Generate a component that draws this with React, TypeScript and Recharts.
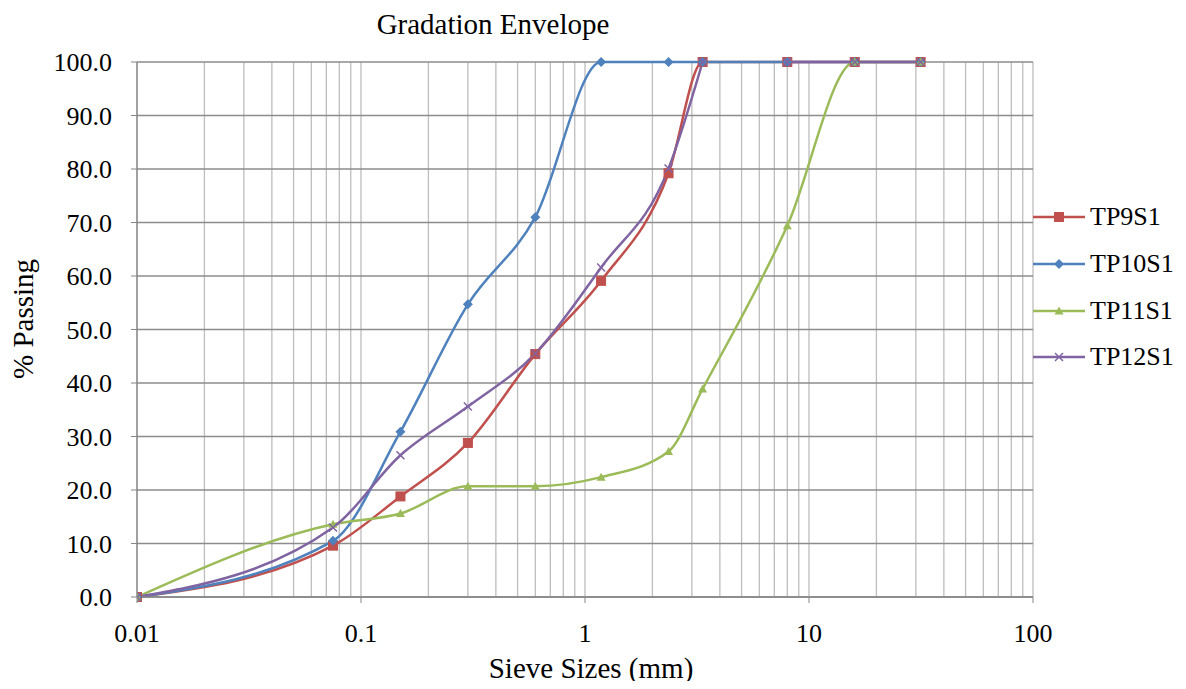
import React from 'react';
import { LineChart, Line, XAxis, YAxis, CartesianGrid, Legend } from 'recharts';

const FONT = '"Liberation Serif", "DejaVu Serif", serif';

// sieve sizes in mm (log x axis) and % passing per test pit
const sieveSizes = [0.01, 0.075, 0.15, 0.3, 0.6, 1.18, 2.36, 3.35, 8, 16, 31.5];
const tp9s1 = [0, 9.6, 18.8, 28.8, 45.4, 59.1, 79.2, 100, 100, 100, 100];
const tp10s1 = [0, 10.5, 30.9, 54.7, 71.0, 100, 100, 100, 100, 100, 100];
const tp11s1 = [0, 13.6, 15.6, 20.7, 20.7, 22.4, 27.2, 38.9, 69.4, 100, 100];
// TP12S1 has a blank cell at 4.75 mm, so its line breaks between 3.35 and 8
const tp12Sieves = [0.01, 0.075, 0.15, 0.3, 0.6, 1.18, 2.36, 3.35, 4.75, 8, 16, 31.5];
const tp12s1 = [0, 13.0, 26.5, 35.6, 45.5, 61.6, 80.1, 100, null, 100, 100, 100];

const xTicks = [
  0.01, 0.02, 0.03, 0.04, 0.05, 0.06, 0.07, 0.08, 0.09,
  0.1, 0.2, 0.3, 0.4, 0.5, 0.6, 0.7, 0.8, 0.9,
  1, 2, 3, 4, 5, 6, 7, 8, 9,
  10, 20, 30, 40, 50, 60, 70, 80, 90,
  100,
];
const xLabels = ['0.01', '0.1', '1', '10', '100'];
const yTicks = [0, 10, 20, 30, 40, 50, 60, 70, 80, 90, 100];

type Shape = 'square' | 'diamond' | 'triangle' | 'cross';

const toPoints = (xs: number[], ys: (number | null)[]) => xs.map((x, i) => ({ x, y: ys[i] }));

const series: { name: string; color: string; shape: Shape; data: { x: number; y: number | null }[] }[] = [
  { name: 'TP9S1', color: '#C0504D', shape: 'square', data: toPoints(sieveSizes, tp9s1) },
  { name: 'TP10S1', color: '#4F81BD', shape: 'diamond', data: toPoints(sieveSizes, tp10s1) },
  { name: 'TP11S1', color: '#9BBB59', shape: 'triangle', data: toPoints(sieveSizes, tp11s1) },
  { name: 'TP12S1', color: '#8064A2', shape: 'cross', data: toPoints(tp12Sieves, tp12s1) },
];

function Marker({ shape, x, y, color }: { shape: Shape; x: number; y: number; color: string }) {
  switch (shape) {
    case 'square':
      return <rect x={x - 4.5} y={y - 4.5} width={9} height={9} fill={color} stroke={color} strokeWidth={1} />;
    case 'diamond':
      return <polygon points={`${x},${y - 5} ${x + 5},${y} ${x},${y + 5} ${x - 5},${y}`} fill={color} />;
    case 'triangle':
      return <polygon points={`${x},${y - 4.5} ${x + 4.5},${y + 3.5} ${x - 4.5},${y + 3.5}`} fill={color} />;
    default:
      return (
        <path
          d={`M${x - 4},${y - 4}L${x + 4},${y + 4}M${x - 4},${y + 4}L${x + 4},${y - 4}`}
          stroke={color}
          strokeWidth={1.5}
          fill="none"
        />
      );
  }
}

const makeDot = (shape: Shape, color: string) => (p: any) => {
  if (p.cy == null || p.payload?.y == null || isNaN(p.cy)) return <g key={`d-${p.index}`} />;
  return (
    <g key={`d-${p.index}`}>
      <Marker shape={shape} x={p.cx} y={p.cy} color={color} />
    </g>
  );
};

const XTick = (p: any) => {
  const v = p.payload.value;
  const label = xLabels.find((l) => Math.abs(Number(l) - v) < 1e-9);
  if (!label) return <g />;
  return (
    <g>
      <line x1={p.x} x2={p.x} y1={p.y - 27} y2={p.y - 21} stroke="#868686" />
      <text x={p.x} y={p.y} dy="0.71em" textAnchor="middle" fontSize={26} fontFamily={FONT} fill="#000">
        {label}
      </text>
    </g>
  );
};

const renderLegend = () => (
  <div style={{ fontFamily: FONT, fontSize: 26, color: '#000' }}>
    {series.map((s) => (
      <div key={s.name} style={{ display: 'flex', alignItems: 'center', height: 46.7 }}>
        <svg width={52} height={20}>
          <line x1={0} y1={10} x2={52} y2={10} stroke={s.color} strokeWidth={2.5} />
          <Marker shape={s.shape} x={26} y={10} color={s.color} />
        </svg>
        <span style={{ marginLeft: 5, lineHeight: 1, whiteSpace: 'nowrap' }}>{s.name}</span>
      </div>
    ))}
  </div>
);

export default function App() {
  return (
    <div style={{ position: 'relative', width: 1170, height: 673 }}>
      <LineChart width={1170} height={673} margin={{ top: 54, right: 145, bottom: 34, left: 59 }}>
        <CartesianGrid horizontal={false} stroke="#bdbdbd" strokeWidth={1.3} />
        <CartesianGrid vertical={false} stroke="#8c8c8c" strokeWidth={1.3} />
        <XAxis
          dataKey="x"
          type="number"
          scale="log"
          domain={[0.01, 100]}
          ticks={xTicks}
          interval={0}
          allowDataOverflow
          height={50}
          tickSize={6}
          tickMargin={21}
          tickLine={false}
          axisLine={{ stroke: '#868686', strokeWidth: 1.3 }}
          tick={<XTick />}
        />
        <YAxis
          type="number"
          domain={[0, 100]}
          ticks={yTicks}
          interval={0}
          width={70}
          tickSize={6}
          tickMargin={19}
          tickFormatter={(v) => Number(v).toFixed(1)}
          tick={{ fontSize: 26, fontFamily: FONT, fill: '#000' }}
          tickLine={{ stroke: '#868686' }}
          axisLine={{ stroke: '#868686', strokeWidth: 1.3 }}
        />
        <Legend
          layout="vertical"
          align="center"
          verticalAlign="middle"
          content={renderLegend}
          wrapperStyle={{ left: 1025, top: 186, width: 160 }}
        />
        {series.map((s) => (
          <Line
            key={s.name}
            data={s.data}
            dataKey="y"
            name={s.name}
            type="monotone"
            stroke={s.color}
            strokeWidth={2.5}
            dot={makeDot(s.shape, s.color)}
            activeDot={false}
            isAnimationActive={false}
          />
        ))}
      </LineChart>
      <div
        style={{
          position: 'absolute',
          left: 485,
          top: 2,
          transform: 'translateX(-50%)',
          fontFamily: FONT,
          fontSize: 29,
          lineHeight: 1,
          whiteSpace: 'nowrap',
        }}
      >
        Gradation Envelope
      </div>
      <div
        style={{
          position: 'absolute',
          left: 583,
          top: 646,
          transform: 'translateX(-50%)',
          fontFamily: FONT,
          fontSize: 29,
          lineHeight: 1,
          whiteSpace: 'nowrap',
        }}
      >
        Sieve Sizes (mm)
      </div>
      <div
        style={{
          position: 'absolute',
          left: 15,
          top: 311,
          transform: 'translate(-50%, -50%) rotate(-90deg)',
          fontFamily: FONT,
          fontSize: 29,
          lineHeight: 1,
          whiteSpace: 'nowrap',
        }}
      >
        % Passing
      </div>
    </div>
  );
}
